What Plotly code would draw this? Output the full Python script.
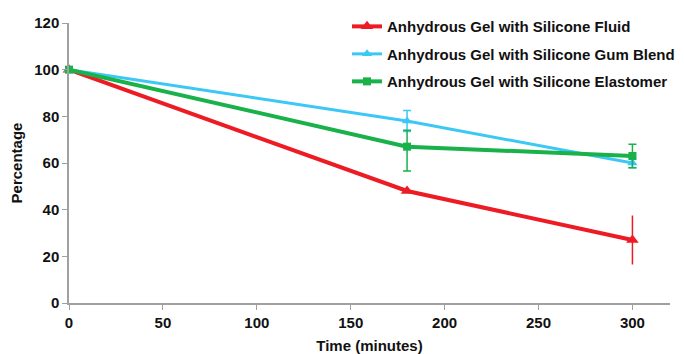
import plotly.graph_objects as go

time_min = [0, 180, 300]
fluid = [100, 48, 27]
fluid_err = [0, 0, 10.5]
gum = [100, 78, 60]
gum_err = [0, 4.5, 2]
elast = [100, 67, 63]
elast_err_plus = [0, 7, 5]
elast_err_minus = [0, 10.4, 5]

names = ["Anhydrous Gel with Silicone Fluid",
         "Anhydrous Gel with Silicone Gum Blend",
         "Anhydrous Gel with Silicone Elastomer"]

FONT = "Liberation Sans Narrow, Arial Narrow, Liberation Sans, Arial, sans-serif"
RED = "#ED1C24"
BLUE = "#3CC8F4"
GREEN = "#18B14A"

fig = go.Figure()
fig.add_trace(go.Scatter(
    x=time_min, y=fluid, name=names[0], mode="lines+markers", legendgroup="a",
    line=dict(color=RED, width=4), marker=dict(symbol="triangle-up", size=11, color=RED),
    error_y=dict(type="data", array=fluid_err, color=RED, width=0, thickness=1.5)))
fig.add_trace(go.Scatter(
    x=time_min, y=gum, name=names[1], mode="lines+markers", legendgroup="b",
    line=dict(color=BLUE, width=3), marker=dict(symbol="triangle-up", size=9, color=BLUE),
    error_y=dict(type="data", array=gum_err, color=BLUE, width=4, thickness=1.5)))
fig.add_trace(go.Scatter(
    x=time_min, y=elast, name=names[2], mode="lines+markers", legendgroup="c",
    line=dict(color=GREEN, width=4), marker=dict(symbol="square", size=8, color=GREEN),
    error_y=dict(type="data", array=elast_err_plus, arrayminus=elast_err_minus,
                 color=GREEN, width=4, thickness=1.5)))

fig.update_layout(
    width=676, height=346,
    margin=dict(l=61, r=14, t=15, b=51, autoexpand=False),
    paper_bgcolor="white", plot_bgcolor="white",
    font=dict(family=FONT, size=14, color="#111111"),
    showlegend=True,
    legend=dict(x=0.4626, y=1.046, xanchor="left", yanchor="top",
                font=dict(family=FONT, size=15, color="#111111", weight="bold"),
                bgcolor="rgba(0,0,0,0)", tracegroupgap=5, itemwidth=30),
    xaxis=dict(range=[0, 320], tickvals=[0, 50, 100, 150, 200, 250, 300],
               showgrid=False, zeroline=False, showline=True, linecolor="#A0A0A0",
               linewidth=1.5, ticks="outside", ticklen=5, tickcolor="#A0A0A0",
               automargin=False,
               tickfont=dict(family=FONT, size=15, weight="bold"),
               title=dict(text="Time (minutes)",
                          font=dict(family=FONT, size=15, weight="bold"))),
    yaxis=dict(range=[0, 120], tickvals=[0, 20, 40, 60, 80, 100, 120],
               showgrid=False, zeroline=False, showline=True, linecolor="#A0A0A0",
               linewidth=1.5, ticks="outside", ticklen=5, tickcolor="#A0A0A0",
               automargin=False,
               tickfont=dict(family=FONT, size=15, weight="bold"),
               title=dict(text="Percentage",
                          font=dict(family=FONT, size=15, weight="bold"))),
)
fig.update_traces(cliponaxis=False)
fig.write_html("out.html")
